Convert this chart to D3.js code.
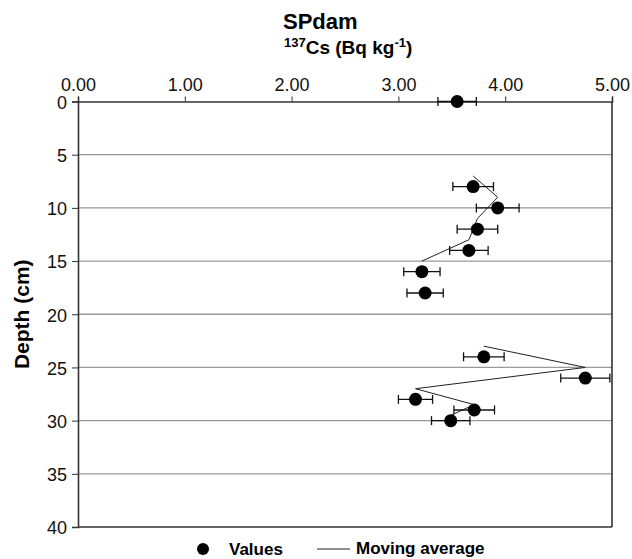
<!DOCTYPE html>
<html><head><meta charset="utf-8">
<script src="https://cdn.jsdelivr.net/npm/d3@7"></script>
<style>
body{margin:0;background:#fff;}
text{font-family:"Liberation Sans",Arial,sans-serif;}
</style></head>
<body><svg id="c" width="632" height="559"></svg>
<script>
// Data
const depths = [0, 8, 10, 12, 14, 16, 18, 24, 26, 28, 29, 30];
const values = [3.55, 3.70, 3.93, 3.74, 3.66, 3.22, 3.25, 3.80, 4.75, 3.16, 3.71, 3.49];
const errors = [0.18, 0.19, 0.20, 0.19, 0.18, 0.17, 0.17, 0.19, 0.23, 0.16, 0.19, 0.18];
const maValues = [3.70, 3.93, 3.74, 3.66, 3.22, null, 3.80, 4.75, 3.16, 3.71, 3.49];
const maDepths = [7, 9, 11, 13, 15, null, 23, 25, 27, 28.5, 29.5];
const xTicks = [0, 1, 2, 3, 4, 5];
const yTicks = [0, 5, 10, 15, 20, 25, 30, 35, 40];

const svg = d3.select("#c");
const L = 78, R = 612, T = 101.5, B = 527;
const x = d3.scaleLinear().domain([0, 5]).range([L, R]);
const y = d3.scaleLinear().domain([0, 40]).range([T, B]);

// gridlines
svg.append("g").selectAll("line").data(yTicks.filter(d => d > 0 && d < 40)).join("line")
  .attr("x1", L).attr("x2", R).attr("y1", d => y(d)).attr("y2", d => y(d))
  .attr("stroke", "#9a9a9a").attr("stroke-width", 1.3);

// frame right and bottom
svg.append("line").attr("x1", R).attr("x2", R).attr("y1", T).attr("y2", B).attr("stroke", "#333").attr("stroke-width", 1.6);
svg.append("line").attr("x1", L).attr("x2", R).attr("y1", B).attr("y2", B).attr("stroke", "#333").attr("stroke-width", 1.6);

// axes
const xAxis = d3.axisTop(x).tickValues(xTicks).tickFormat(d3.format(".2f")).tickSize(5).tickPadding(6);
const gx = svg.append("g").attr("transform", `translate(0,${T})`).call(xAxis);
gx.select(".domain").attr("stroke", "#333").attr("stroke-width", 1.6);
gx.selectAll(".tick line").attr("stroke", "#333");
gx.selectAll("text").attr("font-size", 18).attr("fill", "#111");

const yAxis = d3.axisLeft(y).tickValues(yTicks).tickSize(6).tickPadding(5);
const gy = svg.append("g").attr("transform", `translate(${L},0)`).call(yAxis);
gy.select(".domain").attr("stroke", "#333").attr("stroke-width", 1.6);
gy.selectAll(".tick line").attr("stroke", "#333");
gy.selectAll("text").attr("font-size", 18).attr("fill", "#111").attr("dy", "0.38em");

// clip for data
svg.append("clipPath").attr("id", "clip").append("rect").attr("x", L).attr("y", T - 10).attr("width", R - L).attr("height", B - T + 10);
const plot = svg.append("g").attr("clip-path", "url(#clip)");

// moving average
const mv = maValues.map((v, i) => ({v, d: maDepths[i]}));
const line = d3.line().defined(p => p.v !== null).x(p => x(p.v)).y(p => y(p.d));
plot.append("path").attr("d", line(mv)).attr("fill", "none").attr("stroke", "#222").attr("stroke-width", 1);

// error bars
const pts = values.map((v, i) => ({v, d: depths[i], e: errors[i]}));
const eb = plot.append("g").attr("stroke", "#111").attr("stroke-width", 1.3);
eb.selectAll(".h").data(pts).join("line").attr("x1", p => x(p.v - p.e)).attr("x2", p => x(p.v + p.e))
  .attr("y1", p => y(p.d)).attr("y2", p => y(p.d));
eb.selectAll(".l").data(pts).join("line").attr("x1", p => x(p.v - p.e)).attr("x2", p => x(p.v - p.e))
  .attr("y1", p => y(p.d) - 4.5).attr("y2", p => y(p.d) + 4.5);
eb.selectAll(".r").data(pts).join("line").attr("x1", p => x(p.v + p.e)).attr("x2", p => x(p.v + p.e))
  .attr("y1", p => y(p.d) - 4.5).attr("y2", p => y(p.d) + 4.5);

// points
svg.append("g").selectAll("circle").data(pts).join("circle")
  .attr("cx", p => x(p.v)).attr("cy", p => y(p.d)).attr("r", 6.5).attr("fill", "#000");

// titles
svg.append("text").attr("x", 283).attr("y", 29)
  .attr("font-size", 22).attr("font-weight", "bold").text("SPdam");
const st = svg.append("text").attr("x", 284).attr("y", 54)
  .attr("font-size", 19).attr("font-weight", "bold");
st.append("tspan").attr("font-size", 13).attr("dy", -7).text("137");
st.append("tspan").attr("dy", 7).text("Cs (Bq kg");
st.append("tspan").attr("font-size", 13).attr("dy", -7).text("-1");
st.append("tspan").attr("dy", 7).text(")");

svg.append("text").attr("transform", `translate(29,${(T + B) / 2}) rotate(-90)`)
  .attr("text-anchor", "middle").attr("font-size", 21).attr("font-weight", "bold").text("Depth (cm)");

// legend
const ly = 549;
svg.append("circle").attr("cx", 203).attr("cy", ly).attr("r", 6).attr("fill", "#000");
svg.append("text").attr("x", 229).attr("y", ly + 6).attr("font-size", 17).attr("font-weight", "bold").text("Values");
svg.append("line").attr("x1", 317).attr("x2", 350).attr("y1", ly).attr("y2", ly).attr("stroke", "#222").attr("stroke-width", 1.2);
svg.append("text").attr("x", 356).attr("y", ly + 5).attr("font-size", 17).attr("font-weight", "bold").text("Moving average");
</script></body></html>
